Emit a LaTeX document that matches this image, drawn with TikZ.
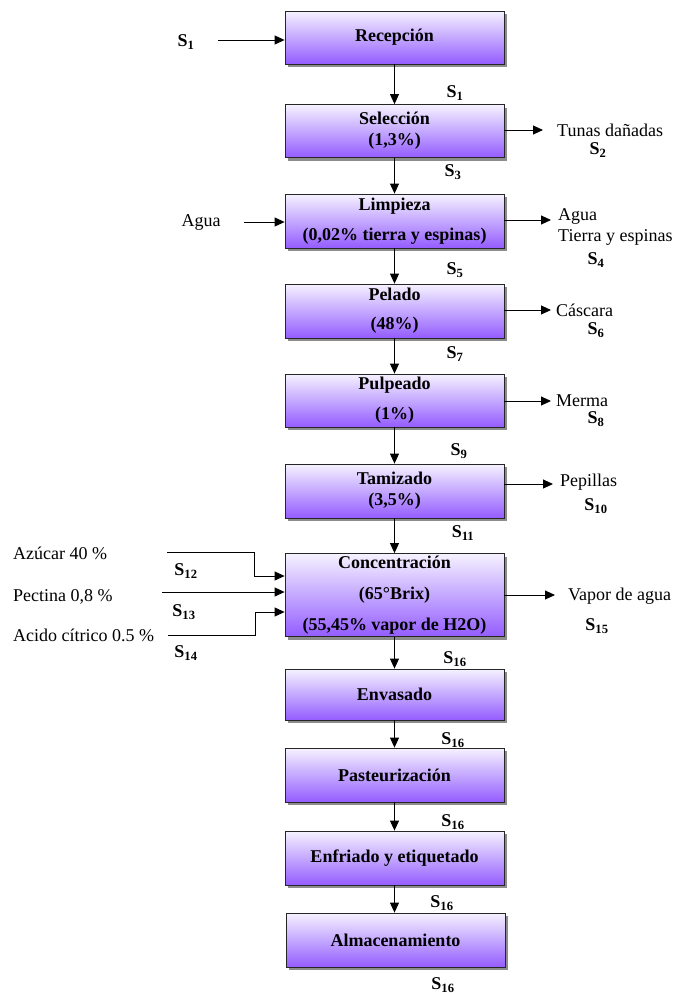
\documentclass[tikz,border=0pt]{standalone}
\usepackage{fontspec}
\setmainfont{Liberation Serif}
\usetikzlibrary{arrows.meta,shadows}
\definecolor{boxtop}{RGB}{246,242,255}
\definecolor{boxmid}{RGB}{196,168,255}
\definecolor{boxbot}{RGB}{148,92,255}
\newcommand{\Sn}[1]{\textbf{S\textsubscript{#1}}}
\begin{document}
\begin{tikzpicture}[x=1pt,y=-1pt,
  every node/.style={font=\fontsize{18}{21}\selectfont, inner sep=0pt},
  proc/.style={draw=black!85, line width=0.8pt, minimum width=219pt, align=center,
    font=\fontsize{18}{21}\selectfont\bfseries,
    top color=boxtop, bottom color=boxbot, middle color=boxmid,
    drop shadow={shadow xshift=3pt, shadow yshift=-3pt, opacity=0.75, fill=black!60}},
  flow/.style={-{Triangle[length=10pt,width=9pt]}, line width=0.9pt},
]
\useasboundingbox (0,0) rectangle (677,993);

% process steps
\node[proc, minimum height=53pt] (rec) at (394.5,37.5) {Recepción};
\node[proc, minimum height=53pt] (sel) at (394.5,131) {Selección\\(1,3\%)};
\node[proc, minimum height=54pt] (lim) at (394.5,221) {Limpieza\\[9pt](0,02\% tierra y espinas)};
\node[proc, minimum height=54pt] (pel) at (394.5,311) {Pelado\\[8pt](48\%)};
\node[proc, minimum height=53pt] (pul) at (394.5,400.5) {Pulpeado\\[9pt](1\%)};
\node[proc, minimum height=54pt] (tam) at (394.5,491) {Tamizado\\(3,5\%)};
\node[proc, minimum height=83pt] (con) at (394.5,595) {Concentración\\[10pt](65°Brix)\\[10pt](55,45\% vapor de H2O)};
\node[proc, minimum height=51pt] (env) at (394.5,694.5) {Envasado};
\node[proc, minimum height=54pt] (pas) at (394.5,775) {Pasteurización};
\node[proc, minimum height=54pt] (enf) at (394.5,858) {Enfriado y etiquetado};
\node[proc, minimum height=54pt] (alm) at (395.5,940) {Almacenamiento};

% main flow
\draw[flow] (rec) -- (sel);
\draw[flow] (sel) -- (lim);
\draw[flow] (lim) -- (pel);
\draw[flow] (pel) -- (pul);
\draw[flow] (pul) -- (tam);
\draw[flow] (tam) -- (con);
\draw[flow] (con) -- (env);
\draw[flow] (env) -- (pas);
\draw[flow] (pas) -- (enf);
\draw[flow] (enf.south) -- (enf.south |- alm.north);

% stream labels along the main flow
\node (s1b) at (455,93) {\Sn{1}};
\node (s3) at (453,172) {\Sn{3}};
\node (s5) at (455,270) {\Sn{5}};
\node (s7) at (455,354) {\Sn{7}};
\node (s9) at (459,451) {\Sn{9}};
\node (s11) at (463,533) {\Sn{11}};
\node (s16a) at (455,659) {\Sn{16}};
\node (s16b) at (453,740) {\Sn{16}};
\node (s16c) at (453,822) {\Sn{16}};
\node (s16d) at (442,903) {\Sn{16}};
\node (s16e) at (443,985) {\Sn{16}};

% inputs
\node (s1a) at (186,42) {\Sn{1}};
\coordinate (in1) at (218,40);
\draw[flow] (in1) -- (rec.west |- in1);

\node (agin) at (201,222) {Agua};
\coordinate (in2) at (244,222);
\draw[flow] (in2) -- (lim.west |- in2);

\node[anchor=west] (azu) at (13,553) {Azúcar 40 \%};
\node[anchor=west] (pec) at (13,597) {Pectina 0,8 \%};
\node[anchor=west] (aci) at (13,635) {Acido cítrico 0.5 \%};
\node (s12) at (186,571) {\Sn{12}};
\node (s13) at (184,612) {\Sn{13}};
\node (s14) at (186,653) {\Sn{14}};
\coordinate (in3) at (167,552);
\coordinate (in4) at (162,592);
\coordinate (in5) at (168,635);
\draw[flow] (in3) -- (254,552) |- ([yshift=19pt]con.west);
\draw[flow] (in4) -- (con.west |- in4);
\draw[flow] (in5) -- (255,635) |- ([yshift=-17pt]con.west);

% outputs
\coordinate (o2) at (543,130);
\draw[flow] (sel.east |- o2) -- (o2);
\node[anchor=west] (tun) at (557,130) {Tunas dañadas};
\node (s2) at (598,150) {\Sn{2}};

\coordinate (o4) at (551,220);
\draw[flow] (lim.east |- o4) -- (o4);
\node[anchor=west] (agout) at (558,216) {Agua};
\node[anchor=west] (tie) at (558,237) {Tierra y espinas};
\node (s4) at (596,260) {\Sn{4}};

\coordinate (o6) at (551,310);
\draw[flow] (pel.east |- o6) -- (o6);
\node[anchor=west] (cas) at (556,310) {Cáscara};
\node (s6) at (596,330) {\Sn{6}};

\coordinate (o8) at (551,401);
\draw[flow] (pul.east |- o8) -- (o8);
\node[anchor=west] (mer) at (556,401) {Merma};
\node (s8) at (596,419) {\Sn{8}};

\coordinate (o10) at (553,484);
\draw[flow] (tam.east |- o10) -- (o10);
\node[anchor=west] (pep) at (560,482) {Pepillas};
\node (s10) at (596,506) {\Sn{10}};

\coordinate (o15) at (555,595);
\draw[flow] (con.east |- o15) -- (o15);
\node[anchor=west] (vap) at (568,596) {Vapor de agua};
\node (s15) at (597,626) {\Sn{15}};
\end{tikzpicture}
\end{document}
